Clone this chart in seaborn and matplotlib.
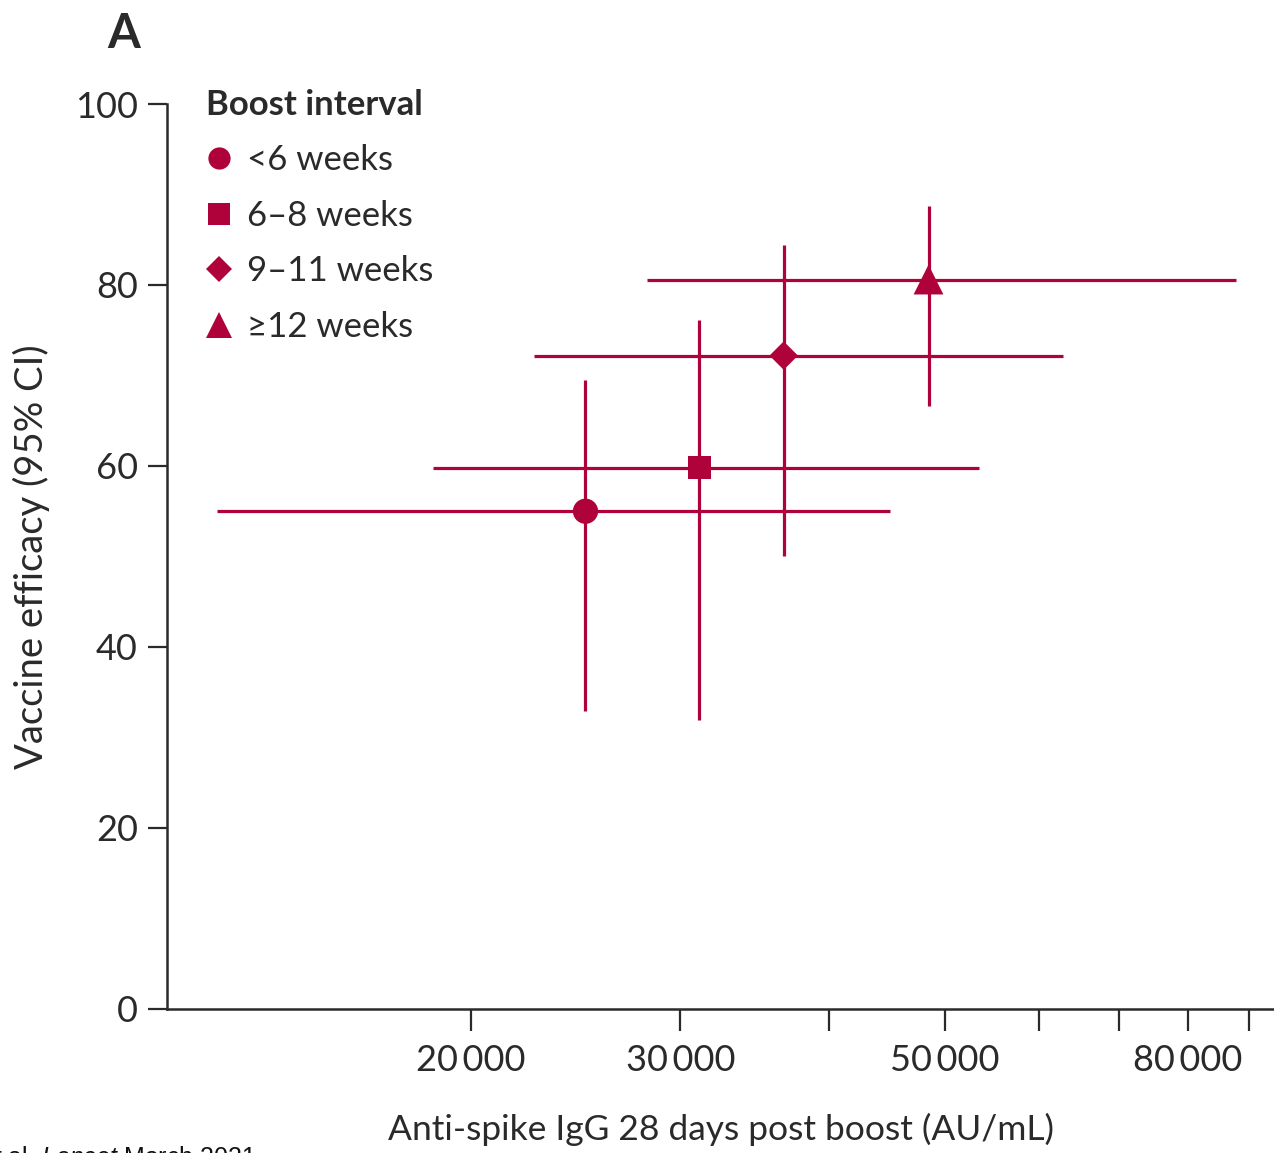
import numpy as np
import pandas as pd
import matplotlib
matplotlib.use("Agg")
import matplotlib.pyplot as plt
from matplotlib.lines import Line2D
from matplotlib.ticker import FixedLocator, FixedFormatter, NullLocator
import seaborn as sns

# Vaccine efficacy versus anti-spike IgG, by prime-boost interval
intervals = ["<6 weeks", "6–8 weeks", "9–11 weeks", "≥12 weeks"]
igg = [24970, 31120, 36630, 48460]
igg_lo = [12250, 18590, 22600, 28110]
igg_hi = [44950, 53480, 62800, 87840]
efficacy = [55.0, 59.8, 72.2, 80.6]
eff_lo = [32.9, 31.9, 50.1, 66.6]
eff_hi = [69.5, 76.1, 84.4, 88.7]

x_ticks = [20000, 30000, 40000, 50000, 60000, 70000, 80000, 90000]
x_tick_labels = ["20\u2009000", "30\u2009000", "", "50\u2009000", "", "", "80\u2009000", ""]
y_ticks = [0, 20, 40, 60, 80, 100]

markers = {"<6 weeks": "o", "6–8 weeks": "s", "9–11 weeks": "D", "≥12 weeks": "^"}
marker_area = {"<6 weeks": 330, "6–8 weeks": 272, "9–11 weeks": 210, "≥12 weeks": 460}
legend_ms = {"<6 weeks": 16, "6–8 weeks": 16, "9–11 weeks": 13.5, "≥12 weeks": 19}

red = "#B0023A"
ink = "#2a2a2a"

df = pd.DataFrame({"interval": intervals, "igg": igg, "efficacy": efficacy})

sns.set_theme(style="white")
plt.rcParams["font.family"] = ["Lato", "DejaVu Sans"]
plt.rcParams["mathtext.fontset"] = "custom"
plt.rcParams["mathtext.rm"] = "Liberation Sans"
plt.rcParams["mathtext.it"] = "Liberation Sans:italic"

fig = plt.figure(figsize=(12.74, 11.53), dpi=100)
ax = fig.add_axes([0.1311, 0.1249, 0.8689, 0.7849])

# 95% CI whiskers in both directions
x = np.array(igg)
y = np.array(efficacy)
ax.errorbar(x, y,
            xerr=[x - np.array(igg_lo), np.array(igg_hi) - x],
            yerr=[y - np.array(eff_lo), np.array(eff_hi) - y],
            fmt="none", ecolor=red, elinewidth=2.3, capsize=0, zorder=2)

sns.scatterplot(data=df, x="igg", y="efficacy", style="interval", markers=markers,
                size="interval", sizes=marker_area, color=red, linewidth=0,
                legend=False, ax=ax, zorder=3)

ax.set_xscale("log")
ax.set_xlim(11120, 94500)
ax.set_ylim(0, 100)

ax.xaxis.set_major_locator(FixedLocator(x_ticks))
ax.xaxis.set_major_formatter(FixedFormatter(x_tick_labels))
ax.xaxis.set_minor_locator(NullLocator())
ax.set_yticks(y_ticks)
ax.set_yticklabels([str(v) for v in y_ticks])

for side in ["top", "right"]:
    ax.spines[side].set_visible(False)
for side in ["left", "bottom"]:
    ax.spines[side].set_color(ink)
    ax.spines[side].set_linewidth(1.8)

ax.tick_params(axis="y", direction="out", length=14, width=1.6, color=ink,
               pad=7, labelsize=26, labelcolor=ink, left=True)
ax.tick_params(axis="x", direction="out", length=16, width=1.6, color=ink,
               pad=9, labelsize=26, labelcolor=ink, bottom=True)

ax.set_xlabel("Anti-spike IgG 28 days post boost (AU/mL)", fontsize=25.5, color=ink)
ax.set_ylabel("Vaccine efficacy (95% CI)", fontsize=27.5, color=ink)
ax.xaxis.set_label_coords(0.5, -0.1146)
ax.yaxis.set_label_coords(-0.1057, 0.5)

handles = [Line2D([], [], marker=markers[k], color=red, linestyle="none",
                  markersize=legend_ms[k], markeredgewidth=0, label=k)
           for k in intervals]
leg = ax.legend(handles=handles, title="Boost interval", loc="upper left",
                bbox_to_anchor=(0.035, 1.017), frameon=False, fontsize=25,
                title_fontproperties={"weight": "bold", "size": 25},
                handlelength=0.75, handletextpad=0.43, labelspacing=0.68,
                borderpad=0, borderaxespad=0, alignment="left")
for t in leg.get_texts():
    t.set_color(ink)
leg.get_title().set_color(ink)

fig.text(107 / 1274, 1 - 48 / 1153, "A", fontsize=34, fontweight="bold",
         color=ink, ha="left", va="baseline")
fig.text(-0.005, -0.015, r"t al. $\it{Lancet}$ March 2021", fontsize=18,
         family="Liberation Sans", color="#111111", ha="left", va="bottom")

fig.savefig("out.png", dpi=100)
